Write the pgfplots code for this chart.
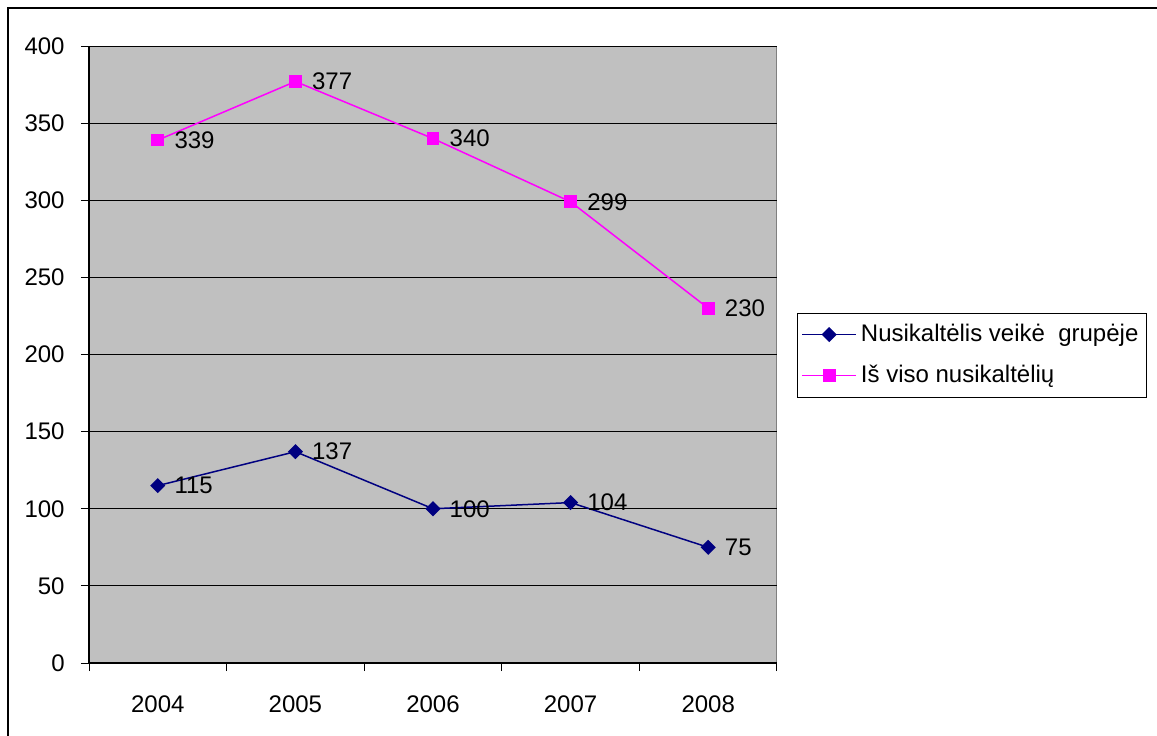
\documentclass[border=0pt]{standalone}
\usepackage{fontspec}
\setmainfont{Liberation Sans}
\usepackage{pgfplots}
\pgfplotsset{compat=1.18}
\definecolor{plotgray}{RGB}{192,192,192}
\definecolor{bordergray}{RGB}{128,128,128}
\definecolor{navyline}{RGB}{0,0,128}
\definecolor{magline}{RGB}{255,0,255}
\newcommand{\chartfont}{\fontsize{12}{14.4}\selectfont}
\begin{document}
\chartfont
\begin{tikzpicture}
\useasboundingbox (0,0) rectangle (578.5pt,367.5pt);
\draw[line width=1pt] (4pt,-2pt) -- (4pt,363.5pt) -- (580pt,363.5pt);
\begin{axis}[
  at={(44.5pt,36pt)}, anchor=south west,
  scale only axis, width=344pt, height=308.5pt,
  xmin=-0.5, xmax=4.5, ymin=0, ymax=400,
  xtick={0,1,2,3,4},
  xticklabels={2004,2005,2006,2007,2008},
  minor xtick={-0.5,0.5,1.5,2.5,3.5,4.5},
  ytick={0,50,...,400},
  major tick length=4pt, minor tick length=4pt,
  tick align=outside,
  tick style={black, line width=0.5pt},
  major x tick style={draw=none},
  minor x tick style={draw=black, line width=0.5pt},
  axis lines*=left,
  axis line style={black, line width=0.6pt},
  axis background/.style={fill=plotgray, draw=bordergray, line width=0.5pt},
  ymajorgrids, grid style={black, line width=0.5pt},
  /pgf/number format/assume math mode=true,
  /pgf/number format/1000 sep={},
  ticklabel style={font=\chartfont},
  xticklabel style={yshift=-8pt},
  yticklabel style={xshift=-4pt},
  nodes near coords,
  every node near coord/.append style={anchor=west, xshift=4pt, black, font=\chartfont},
  legend style={at={(1.029,0.499)}, anchor=west, draw=black, line width=0.5pt,
    font=\chartfont, row sep=6pt, inner xsep=2pt, inner ysep=3.5pt,
    /tikz/every even column/.append style={column sep=2pt}},
  legend cell align=left,
  legend image code/.code={
    \draw[#1, mark repeat=2, mark phase=2] plot coordinates {(0pt,0pt) (13.5pt,0pt) (27pt,0pt)};
  },
]
\addplot[navyline, line width=0.75pt, mark=square*, mark size=2.3pt, mark options={rotate=45, fill=navyline, draw=navyline}]
  coordinates {(0,115) (1,137) (2,100) (3,104) (4,75)};
\addlegendentry{Nusikaltėlis veikė\ \ grupėje}
\addplot[magline, line width=0.75pt, mark=square*, mark size=2.8pt, mark options={fill=magline, draw=magline}]
  coordinates {(0,339) (1,377) (2,340) (3,299) (4,230)};
\addlegendentry{Iš viso nusikaltėlių}
\end{axis}
\end{tikzpicture}
\end{document}
